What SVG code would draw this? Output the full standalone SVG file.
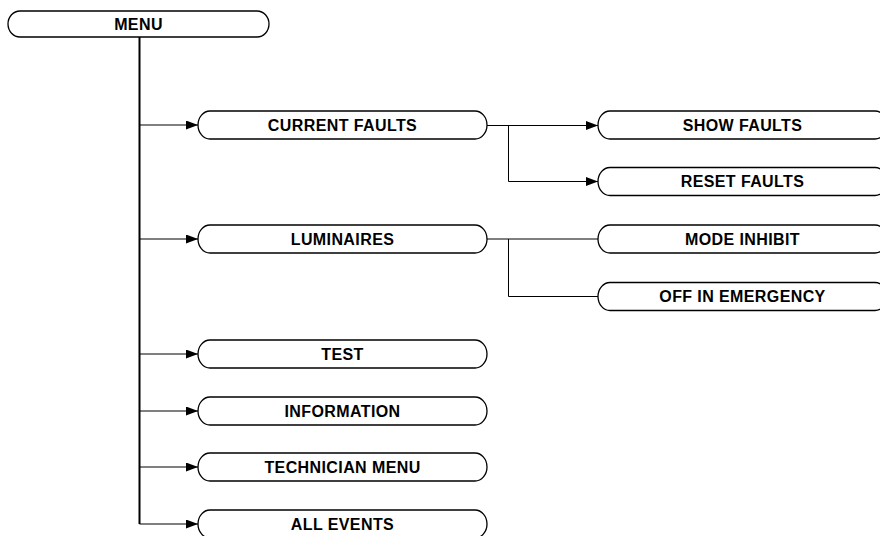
<svg xmlns="http://www.w3.org/2000/svg" width="880" height="536" viewBox="0 0 880 536">
<defs>
<style>
.node path{fill:#fff;stroke:#000;stroke-width:1.3}
.node text{font-family:"Liberation Sans",Arial,sans-serif;font-weight:bold;font-size:16px;letter-spacing:0.4px;fill:#000;text-anchor:middle}
.conn{fill:none;stroke:#000;stroke-width:1}
.trunk{fill:none;stroke:#000;stroke-width:2}
</style>
<marker id="arr" viewBox="0 0 12 9" refX="12" refY="4.5" markerWidth="12" markerHeight="9" markerUnits="userSpaceOnUse" orient="auto">
<path d="M0,0 L12,4.5 L0,9 Z" fill="#000"/>
</marker>
</defs>
<rect width="880" height="536" fill="#fff"/>
<g id="connectors">
<path class="trunk" d="M139.5,37 V524"/>
<path class="conn" d="M139.5,125 H198" marker-end="url(#arr)"/>
<path class="conn" d="M139.5,239 H198" marker-end="url(#arr)"/>
<path class="conn" d="M139.5,354 H198" marker-end="url(#arr)"/>
<path class="conn" d="M139.5,411 H198" marker-end="url(#arr)"/>
<path class="conn" d="M139.5,467 H198" marker-end="url(#arr)"/>
<path class="conn" d="M139.5,524 H198" marker-end="url(#arr)"/>
<path class="conn" d="M487,125.5 H598" marker-end="url(#arr)"/>
<path class="conn" d="M508.5,125.5 V181.5 H598" marker-end="url(#arr)"/>
<path class="conn" d="M487,239 H598"/>
<path class="conn" d="M508.5,239 V296.5 H598"/>
</g>
<g id="menu" class="node">
<path d="M20,11 H257 A12 13 0 0 1 257,37 H20 A12 13 0 0 1 20,11 Z"/>
<text x="138.5" y="29.5">MENU</text>
</g>
<g id="current-faults" class="node">
<path d="M210,111 H475 A12 14 0 0 1 475,139 H210 A12 14 0 0 1 210,111 Z"/>
<text x="342.5" y="130.5">CURRENT FAULTS</text>
</g>
<g id="show-faults" class="node">
<path d="M610,111 H875 A12 14 0 0 1 875,139 H610 A12 14 0 0 1 610,111 Z"/>
<text x="742.5" y="130.5">SHOW FAULTS</text>
</g>
<g id="reset-faults" class="node">
<path d="M610,167.5 H875 A12 14 0 0 1 875,195.5 H610 A12 14 0 0 1 610,167.5 Z"/>
<text x="742.5" y="187">RESET FAULTS</text>
</g>
<g id="luminaires" class="node">
<path d="M210,225 H475 A12 14 0 0 1 475,253 H210 A12 14 0 0 1 210,225 Z"/>
<text x="342.5" y="244.5">LUMINAIRES</text>
</g>
<g id="mode-inhibit" class="node">
<path d="M610,225 H875 A12 14 0 0 1 875,253 H610 A12 14 0 0 1 610,225 Z"/>
<text x="742.5" y="244.5">MODE INHIBIT</text>
</g>
<g id="off-in-emergency" class="node">
<path d="M610,282.5 H875 A12 14 0 0 1 875,310.5 H610 A12 14 0 0 1 610,282.5 Z"/>
<text x="742.5" y="302">OFF IN EMERGENCY</text>
</g>
<g id="test" class="node">
<path d="M210,340 H475 A12 14 0 0 1 475,368 H210 A12 14 0 0 1 210,340 Z"/>
<text x="342.5" y="359.5">TEST</text>
</g>
<g id="information" class="node">
<path d="M210,397 H475 A12 14 0 0 1 475,425 H210 A12 14 0 0 1 210,397 Z"/>
<text x="342.5" y="416.5">INFORMATION</text>
</g>
<g id="technician-menu" class="node">
<path d="M210,453 H475 A12 14 0 0 1 475,481 H210 A12 14 0 0 1 210,453 Z"/>
<text x="342.5" y="472.5">TECHNICIAN MENU</text>
</g>
<g id="all-events" class="node">
<path d="M210,510 H475 A12 14 0 0 1 475,538 H210 A12 14 0 0 1 210,510 Z"/>
<text x="342.5" y="529.5">ALL EVENTS</text>
</g>
</svg>
